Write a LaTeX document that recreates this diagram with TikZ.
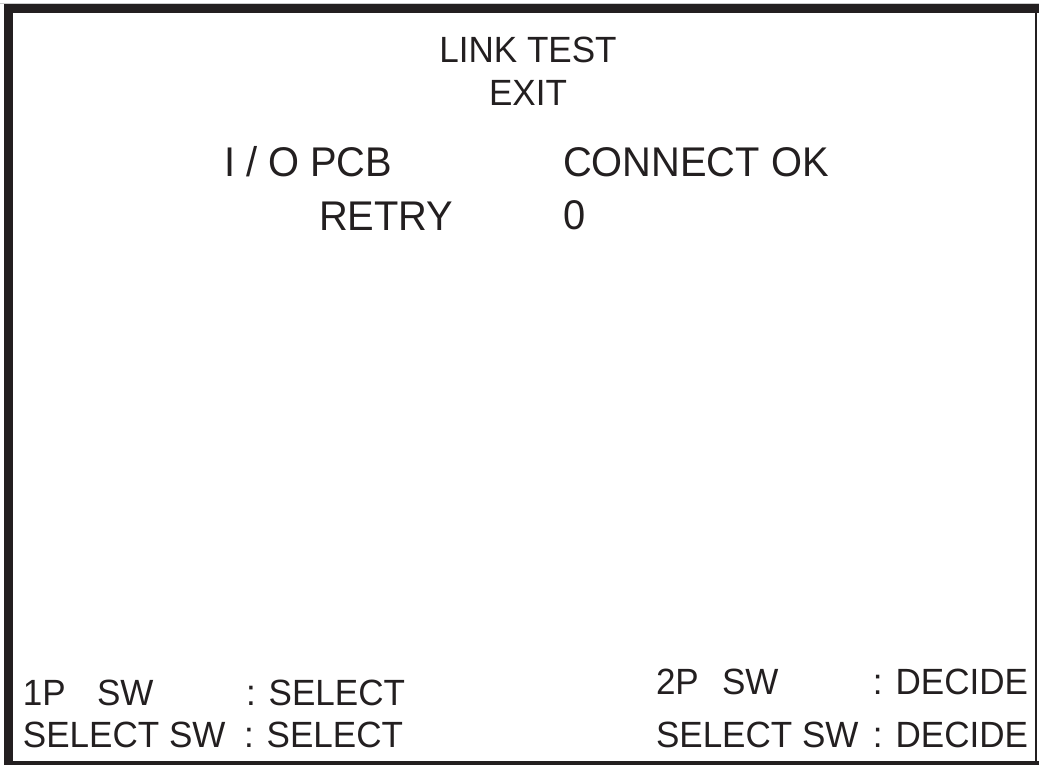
\documentclass[tikz,border=0pt]{standalone}
\usepackage{fontspec}
\setmainfont{Liberation Sans}[FakeStretch=0.96]
\definecolor{ink}{HTML}{231F20}
\begin{document}
\begin{tikzpicture}[x=1pt,y=-1pt,
  txt/.style={inner sep=0pt,outer sep=0pt,text=ink},
  big/.style={txt,font=\fontsize{41.5}{46}\selectfont},
  mid/.style={txt,font=\fontsize{36.5}{40}\selectfont}]
\useasboundingbox (0,0) rectangle (1039,765);
\fill[white] (0,0) rectangle (1039,765);
% frame
\fill[gray!40] (0,3) rectangle (1039,4);
\fill[ink] (4,4) rectangle (1039,13);
\fill[ink] (4,4) rectangle (13,765);
\fill[ink] (1034.5,13) rectangle (1036.5,765);
\fill[ink] (4,761) rectangle (1039,765);
% title
\node[mid,anchor=base] (t1) at (528,63) {LINK TEST};
\node[mid,anchor=base] (t2) at (528,106) {EXIT};
% status
\node[big,anchor=base west] (io) at (224,177) {I / O PCB};
\node[big,anchor=base west] (ok) at (563,176) {CONNECT OK};
\node[big,anchor=base west] (rt) at (319,230) {RETRY};
\node[big,anchor=base west] (zr) at (563,229) {0};
% bottom left
\node[mid,anchor=base west] (p1) at (23,705) {1P};
\node[mid,anchor=base west] (s1) at (97,705) {SW};
\node[mid,anchor=base west] (c1) at (246,705) {: SELECT};
\node[mid,anchor=base west] (ss1) at (23,747) {SELECT SW};
\node[mid,anchor=base west] (c2) at (244,747) {: SELECT};
% bottom right
\node[mid,anchor=base west] (p2) at (656,694) {2P};
\node[mid,anchor=base west] (s2) at (722,694) {SW};
\node[mid,anchor=base east] (d1) at (1028,694) {: DECIDE};
\node[mid,anchor=base west] (ss2) at (656,747) {SELECT SW};
\node[mid,anchor=base east] (d2) at (1028,747) {: DECIDE};
\end{tikzpicture}
\end{document}
